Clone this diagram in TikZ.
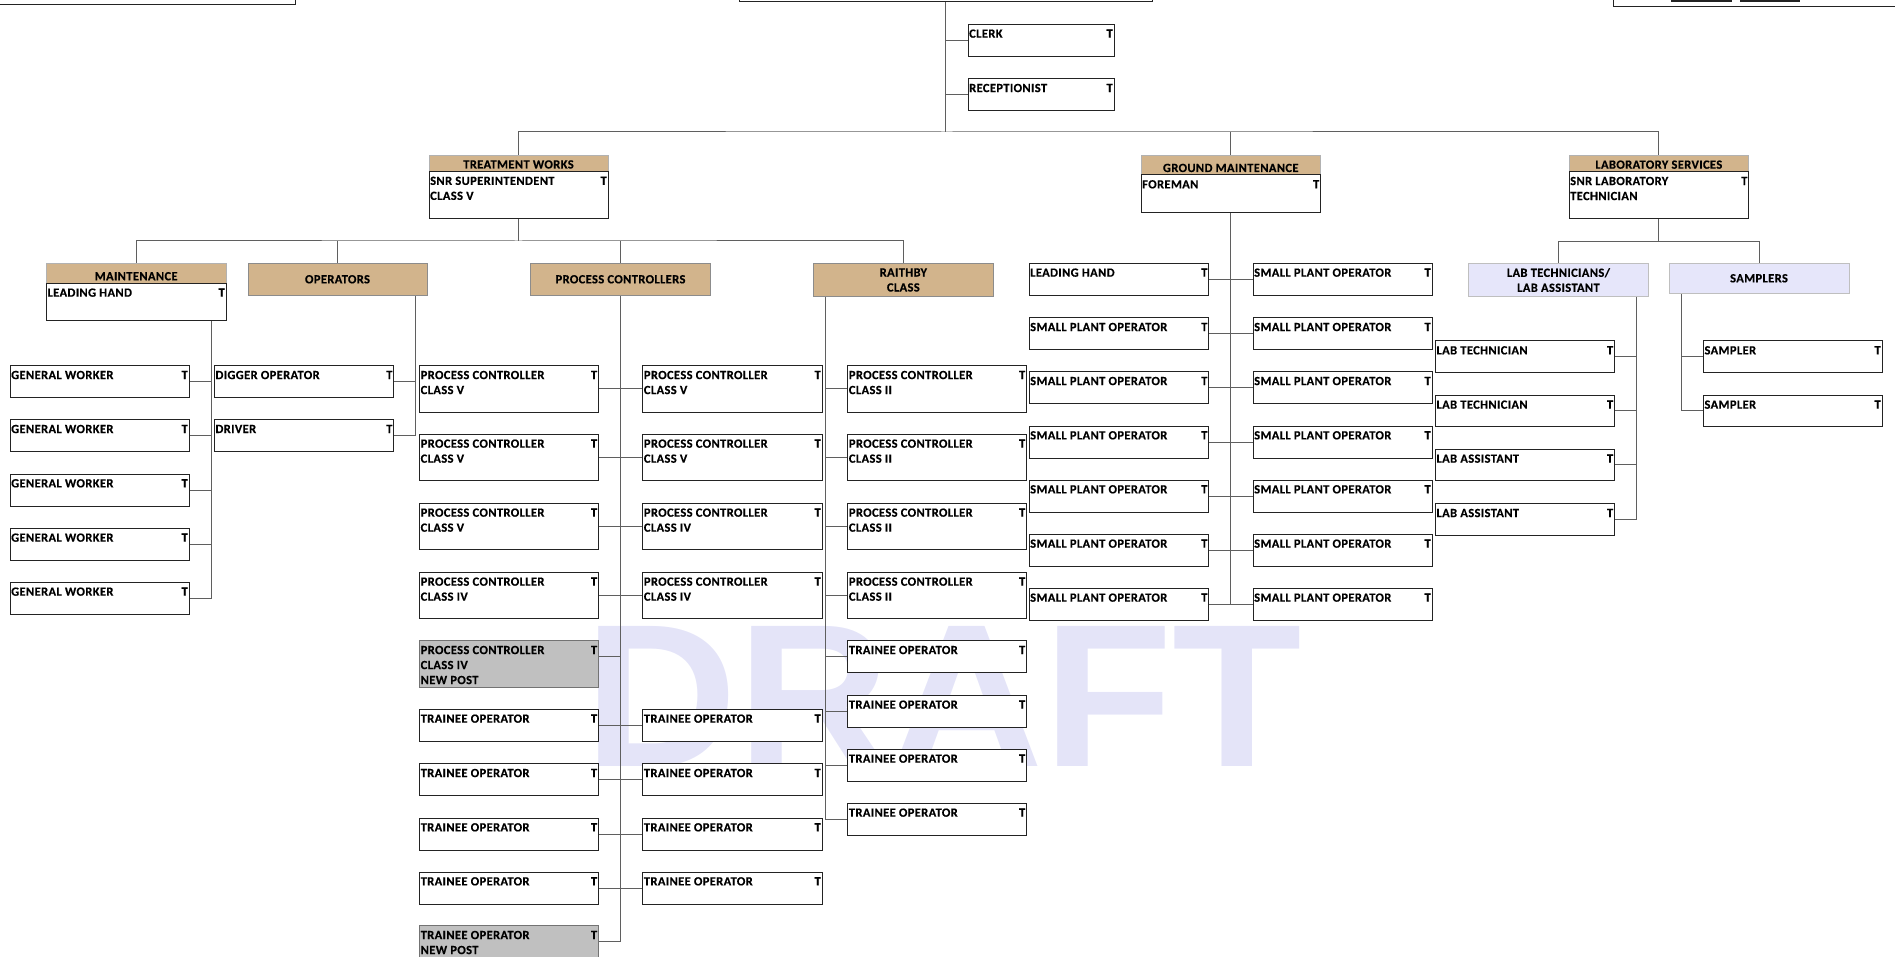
\documentclass[tikz,border=0pt]{standalone}
\usepackage{fontspec}
\setmainfont{Carlito}[LetterSpace=3, BoldFeatures={FakeBold=0.35}]
\newfontfamily\wmfont{Liberation Sans}
\pgfdeclarelayer{bg}
\pgfsetlayers{bg,main}

\definecolor{depttan}{RGB}{210,180,140}
\definecolor{teamlav}{RGB}{230,230,250}
\definecolor{newpost}{RGB}{192,192,192}
\definecolor{wmcol}{RGB}{228,228,248}
\definecolor{linkcol}{RGB}{95,95,95}
\definecolor{edgecol}{RGB}{35,35,35}

\newcommand\postfont{\fontsize{12.5}{15}\selectfont\bfseries}

\tikzset{
  postbox/.style={draw=edgecol, line width=1pt, fill=white, anchor=north west,
    inner sep=0pt, outer sep=0pt},
  posttext/.style={anchor=north west, inner xsep=1pt, inner ysep=5pt, align=left,
    font=\postfont},
  tmark/.style={anchor=north east, inner xsep=1pt, inner ysep=5pt, font=\postfont},
  hdrbox/.style={draw=black!30, line width=0.8pt, fill=depttan, anchor=north west,
    inner sep=0pt, outer sep=0pt},
  hdrtext/.style={anchor=base, inner sep=0pt, font=\postfont},
  unitbox/.style={draw=black!45, line width=0.8pt, fill=depttan, anchor=north west,
    inner sep=0pt, outer sep=0pt, align=center, font=\postfont},
  teambox/.style={unitbox, draw=black!25, fill=teamlav},
  link/.style={draw=linkcol, line width=1pt},
}

% a position box: [extra style]{name}{x}{y}{width}{height}{title}
\newcommand\post[7][]{%
  \node[postbox,#1,minimum width=#5pt,minimum height=#6pt] (#2) at (#3,#4) {};
  \node[posttext] (#2-txt) at (#2.north west) {#7};
  \node[tmark] (#2-T) at (#2.north east) {T};}

% a section heading with its head position below it:
% {name}{x}{y}{width}{heading height}{body height}{heading}{title}
\newcommand\dept[8]{%
  \node[hdrbox, minimum width=#4pt, minimum height=#5pt] (#1) at (#2,#3) {};
  \node[hdrtext] (#1-hd) at ([yshift=3pt]#1.south) {#7};
  \post{#1-body}{#2}{#3+#5}{#4}{#6}{#8}}

\begin{document}
\begin{tikzpicture}[x=1pt,y=-1pt]
\useasboundingbox (0,0) rectangle (1895,957);
\clip (0,0) rectangle (1895,957);

% ---- top row (runs off the top edge)
\node[postbox, minimum width=315pt, minimum height=45pt] (topL) at (-20,-40) {};
\node[postbox, minimum width=413pt, minimum height=42pt] (topC) at (739,-40) {};
\node[postbox, minimum width=300pt, minimum height=46.7pt] (topR) at (1613,-40) {};
\draw[edgecol, line width=2pt] ([shift={(58pt,6pt)}]topR.south west) -- ++(61,0);
\draw[edgecol, line width=2pt] ([shift={(127pt,6pt)}]topR.south west) -- ++(60,0);

\post{clerk}{968}{24.3}{146}{32}{CLERK}
\post{recep}{968}{78.7}{146}{32}{RECEPTIONIST}

% ---- sections
\dept{tw}{429}{155}{179}{16.5}{47.5}{TREATMENT WORKS}{SNR SUPERINTENDENT\\CLASS V}
\dept{gm}{1141}{155}{179.5}{20}{37.5}{GROUND MAINTENANCE}{FOREMAN}
\dept{ls}{1569}{155}{179.6}{16.7}{47.3}{LABORATORY SERVICES}{SNR LABORATORY\\TECHNICIAN}

% ---- treatment works units
\dept{mnt}{46.4}{263.3}{179.6}{20}{37.7}{MAINTENANCE}{LEADING HAND}
\node[unitbox, minimum width=179pt, minimum height=32pt] (ops) at (248,263.3) {OPERATORS};
\node[unitbox, minimum width=180pt, minimum height=32pt] (pcs) at (530.5,263.3) {PROCESS CONTROLLERS};
\node[unitbox, minimum width=180.7pt, minimum height=33.4pt] (rai) at (813,263.3) {RAITHBY\\CLASS};

% ---- laboratory teams
\node[teambox, minimum width=179.9pt, minimum height=33.4pt] (ltl) at (1468.5,263.3) {LAB TECHNICIANS/\\LAB ASSISTANT};
\node[teambox, minimum width=180pt, minimum height=30pt] (smp) at (1669,263.3) {SAMPLERS};

% ---- maintenance
\foreach \i/\y in {1/365.7,2/419.7,3/474,4/528.3,5/582.3}
  {\post{gw\i}{10}{\y}{179}{32}{GENERAL WORKER}}

% ---- operators
\post{dig}{214.3}{365.7}{179.4}{32}{DIGGER OPERATOR}
\post{drv}{214.3}{419.7}{179.4}{32}{DRIVER}

% ---- process controllers
\foreach \i/\y/\c in {1/365.7/V,2/434.3/V,3/503.3/V,4/572.3/IV}
  {\post{pcL\i}{419.5}{\y}{178.8}{46.5}{PROCESS CONTROLLER\\CLASS \c}}
\foreach \i/\y/\c in {1/365.7/V,2/434.3/V,3/503.3/IV,4/572.3/IV}
  {\post{pcM\i}{642.7}{\y}{179.3}{46.5}{PROCESS CONTROLLER\\CLASS \c}}
\post[fill=newpost, draw=black!55]{pcNew}{419.5}{640.7}{178.8}{46.6}{PROCESS CONTROLLER\\CLASS IV\\NEW POST}
\foreach \i/\y in {1/709.3,2/763.7,3/818,4/872}
  {\post{trL\i}{419.5}{\y}{178.8}{32}{TRAINEE OPERATOR}
   \post{trM\i}{642.7}{\y}{179.3}{32}{TRAINEE OPERATOR}}
\post[fill=newpost, draw=black!55]{trNew}{419.5}{925.7}{178.8}{46}{TRAINEE OPERATOR\\NEW POST}

% ---- raithby class
\foreach \i/\y in {1/365.7,2/434.3,3/503.3,4/572.3}
  {\post{rcR\i}{847.7}{\y}{178.8}{46.5}{PROCESS CONTROLLER\\CLASS II}}
\foreach \i/\y in {1/640.7,2/695.3,3/749.3,4/803.3}
  {\post{trR\i}{847.7}{\y}{178.8}{32}{TRAINEE OPERATOR}}

% ---- ground maintenance
\post{gmL1}{1029}{263.3}{179.7}{32}{LEADING HAND}
\foreach \i/\y in {2/317.7,3/371.7,4/426,5/480,6/534.3,7/588.3}
  {\post{gmL\i}{1029}{\y}{179.7}{32}{SMALL PLANT OPERATOR}}
\foreach \i/\y in {1/263.3,2/317.7,3/371.7,4/426,5/480,6/534.3,7/588.3}
  {\post{gmR\i}{1253}{\y}{179}{32}{SMALL PLANT OPERATOR}}

% ---- laboratory
\post{lab1}{1435.3}{341}{179}{31.3}{LAB TECHNICIAN}
\post{lab2}{1435.3}{395.3}{179}{31.3}{LAB TECHNICIAN}
\post{lab3}{1435.3}{449.3}{179}{31.3}{LAB ASSISTANT}
\post{lab4}{1435.3}{503.7}{179}{31.3}{LAB ASSISTANT}
\post{sm1}{1703.3}{341}{178.7}{31.3}{SAMPLER}
\post{sm2}{1703.3}{395.3}{178.7}{31.3}{SAMPLER}

% ---- watermark and reporting lines, behind the boxes
\begin{pgfonlayer}{bg}
\node[anchor=south west, inner sep=0pt, text=wmcol] (wm) at (584,767)
  {\resizebox{718pt}{140pt}{\wmfont\bfseries DRAFT}};

\coordinate (busTop) at (945.5,132);
\coordinate (busTW) at (518.5,241);
\coordinate (busLS) at (1658.8,241.3);
\coordinate (mntTrunk) at ([xshift=-15pt]mnt-body.south east);
\coordinate (opsTrunk) at ([xshift=-11.3pt]ops.south east);
\coordinate (raiTrunk) at ([xshift=12pt]rai.south west);
\coordinate (ltTrunk) at ([xshift=-12pt]ltl.south east);
\coordinate (smTrunk) at ([xshift=12pt]smp.south west);
\coordinate (pcNewC) at ([yshift=-16pt]pcNew.north east);
\coordinate (trNewC) at ([yshift=-16pt]trNew.north east);

% top level
\draw[link] (topC.south) -- (busTop);
\draw[link] (clerk.west) -- (clerk.west -| topC.south);
\draw[link] (recep.west) -- (recep.west -| topC.south);
\draw[link] (tw.north) |- (busTop) -| (ls.north);
\draw[link] (gm.north) -- (gm.north |- busTop);

% treatment works
\draw[link] (tw-body.south) -- (busTW);
\draw[link] (mnt.north) |- (busTW) -| (rai.north);
\draw[link] (ops.north) -- (ops.north |- busTW);
\draw[link] (pcs.north) -- (pcs.north |- busTW);

% maintenance
\draw[link] (mntTrunk) |- (gw5.east);
\foreach \i in {1,...,4} {\draw[link] (gw\i.east) -- (gw\i.east -| mntTrunk);}

% operators
\draw[link] (opsTrunk) |- (drv.east);
\draw[link] (dig.east) -- (dig.east -| opsTrunk);

% process controllers
\draw[link] (pcs.south) -- (pcs.south |- trNewC) -- (trNewC);
\foreach \i in {1,...,4} {
  \draw[link] (pcL\i.east) -- (pcM\i.west);
  \draw[link] (trL\i.east) -- (trM\i.west);}
\draw[link] (pcNewC) -- (pcNewC -| pcs.south);

% raithby class
\draw[link] (raiTrunk) |- (trR4.west);
\foreach \i in {1,...,4} {\draw[link] (rcR\i.west) -- (rcR\i.west -| raiTrunk);}
\foreach \i in {1,...,3} {\draw[link] (trR\i.west) -- (trR\i.west -| raiTrunk);}

% ground maintenance
\draw[link] (gm-body.south) -- (gm-body.south |- gmL7.east);
\foreach \i in {1,...,7} {\draw[link] (gmL\i.east) -- (gmR\i.west);}

% laboratory services
\draw[link] (ls-body.south) -- (busLS);
\draw[link] (ltl.north) |- (busLS) -| (smp.north);
\draw[link] (ltTrunk) |- (lab4.east);
\foreach \i in {1,...,3} {\draw[link] (lab\i.east) -- (lab\i.east -| ltTrunk);}
\draw[link] (smTrunk) |- (sm2.west);
\draw[link] (sm1.west) -- (sm1.west -| smTrunk);
\end{pgfonlayer}
\end{tikzpicture}
\end{document}
